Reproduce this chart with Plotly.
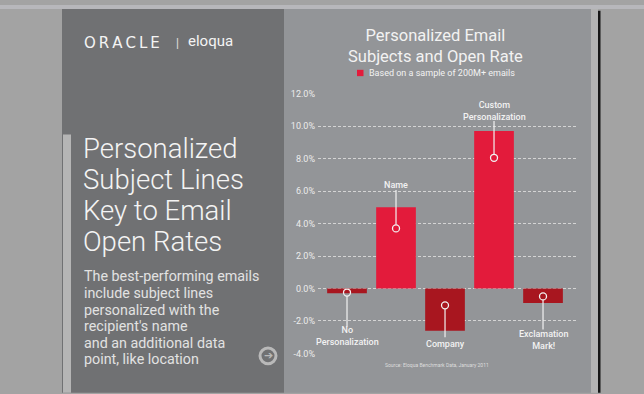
import plotly.graph_objects as go

# ---- data ----
categories = ["No Personalization", "Name", "Company", "Custom Personalization", "Exclamation Mark!"]
label_text = ["No<br>Personalization", "Name", "Company", "Custom<br>Personalization", "Exclamation<br>Mark!"]
open_rate_change = [-0.3, 5.0, -2.6, 9.7, -0.9]
tick_values = [-4, -2, 0, 2, 4, 6, 8, 10, 12]
tick_labels = ["-4.0%", "-2.0%", "0.0%", "2.0%", "4.0%", "6.0%", "8.0%", "10.0%", "12.0%"]

# ---- styling / layout helpers ----
W, H = 644, 394
def px(x): return x / W
def py(y): return 1 - y / H

POS = "#e31b3b"
NEG = "#a8161f"
TXT = "#f2f2f2"
FONT = "Roboto"

# callout styling: pin position as fraction of bar, leader end & text centre in axis units
pin_frac = [0.83, 0.74, 0.40, 0.83, 0.54]
leader_end = [-2.35, 6.06, -3.0, 10.32, -2.53]
text_center = [-2.92, 6.39, -3.43, 10.92, -3.18]

colors = [POS if v >= 0 else NEG for v in open_rate_change]
xi = list(range(len(categories)))

fig = go.Figure()
fig.add_trace(go.Bar(x=xi, y=open_rate_change, marker=dict(color=colors, line=dict(width=0)),
                     width=0.81, hoverinfo="skip", showlegend=False))
pins = [v * f for v, f in zip(open_rate_change, pin_frac)]
fig.add_trace(go.Scatter(x=xi, y=pins, mode="markers",
                         marker=dict(symbol="circle-open", size=7, color=TXT, line=dict(width=1.3, color=TXT)),
                         hoverinfo="skip", showlegend=False))

shapes = []
# backgrounds
shapes.append(dict(type="rect", xref="paper", yref="paper", x0=0, x1=1, y0=py(4), y1=1,
                   fillcolor="#b7b7bb", line=dict(width=0), layer="below"))
shapes.append(dict(type="rect", xref="paper", yref="paper", x0=px(62), x1=px(284), y0=-0.01, y1=py(4),
                   fillcolor="#707173", line=dict(width=0), layer="below"))
shapes.append(dict(type="rect", xref="paper", yref="paper", x0=px(284), x1=px(591), y0=-0.01, y1=py(4),
                   fillcolor="#939598", line=dict(width=0), layer="below"))
shapes.append(dict(type="rect", xref="paper", yref="paper", x0=px(591), x1=px(598), y0=-0.01, y1=py(4),
                   fillcolor="#b3b3b3", line=dict(width=0), layer="below"))
shapes.append(dict(type="rect", xref="paper", yref="paper", x0=px(598), x1=px(600.5), y0=-0.01, y1=py(6),
                   fillcolor="#161616", line=dict(width=0), layer="below"))
shapes.append(dict(type="rect", xref="paper", yref="paper", x0=px(63), x1=px(71), y0=-0.01, y1=py(133),
                   fillcolor="#b5b5b5", line=dict(width=0), layer="below"))
# legend swatch
shapes.append(dict(type="rect", xref="paper", yref="paper", x0=px(357), x1=px(363.5), y0=py(73), y1=py(66.5),
                   fillcolor=POS, line=dict(width=0)))
# arrow icon ring
shapes.append(dict(type="circle", xref="paper", yref="paper", x0=px(260), x1=px(276), y0=py(368), y1=py(352),
                   line=dict(color="#b9b9b9", width=3)))
# leader lines
for i, (p, e) in enumerate(zip(pins, leader_end)):
    start = p + (0.22 if e > p else -0.22)
    shapes.append(dict(type="line", xref="x", yref="y", x0=i, x1=i, y0=start, y1=e,
                       line=dict(color=TXT, width=1.2)))

ann = []
# logo
ann.append(dict(text="O\u2009R\u2009A\u2009C\u2009L\u2009E", x=px(82), y=py(38.5), xanchor="left", yanchor="middle",
                font=dict(family="DejaVu Sans", size=15, color="#f4f4f4")))
ann.append(dict(text="|", x=px(177), y=py(38.5), xanchor="center", yanchor="middle",
                font=dict(family=FONT, size=12, color="#e0e0e0")))
ann.append(dict(text="eloqua", x=px(186), y=py(37), xanchor="left", yanchor="middle",
                font=dict(family=FONT, size=15, color="#f4f4f4")))
# left title
for t, yy in zip(["Personalized", "Subject Lines", "Key to Email", "Open Rates"], [147, 179, 211, 243]):
    ann.append(dict(text=t, x=px(81), y=py(yy), xanchor="left", yanchor="middle",
                    font=dict(family=FONT, size=27.5, color="#f4f4f4", weight=300)))
sub = ["The best-performing emails", "include subject lines", "personalized with the",
       "recipient's name", "and an additional data", "point, like location"]
for t, yy in zip(sub, [278, 295, 312.5, 329.5, 346.5, 363.5]):
    ann.append(dict(text=t, x=px(82), y=py(yy), xanchor="left", yanchor="middle",
                    font=dict(family=FONT, size=14.3, color="#e2e2e2")))
ann.append(dict(text="\u2794", x=px(268.5), y=py(360), xanchor="center", yanchor="middle",
                font=dict(family="DejaVu Sans", size=11, color="#b9b9b9")))
# chart title & legend
ann.append(dict(text="Personalized Email<br>Subjects and Open Rate", x=px(435), y=py(42.5),
                xanchor="center", yanchor="middle", align="center",
                font=dict(family=FONT, size=16.5, color=TXT)))
ann.append(dict(text="Based on a sample of 200M+ emails", x=px(367), y=py(69.5), xanchor="left", yanchor="middle",
                font=dict(family=FONT, size=9, color=TXT)))
ann.append(dict(text="Source: Eloqua Benchmark Data, January 2011", x=px(437), y=py(369), xanchor="center",
                yanchor="middle", font=dict(family=FONT, size=5, color="#dddddd")))
# category callouts
for i, (t, yy) in enumerate(zip(label_text, text_center)):
    ann.append(dict(text=t, x=i, y=yy, xref="x", yref="y", xanchor="center", yanchor="middle",
                    showarrow=False, font=dict(family=FONT, size=9, color=TXT, weight=500)))

for a in ann:
    a.setdefault("xref", "paper")
    a.setdefault("yref", "paper")
    a["showarrow"] = False

fig.update_layout(
    width=W, height=H, margin=dict(l=0, r=0, t=0, b=0),
    paper_bgcolor="#a3a3a3", plot_bgcolor="rgba(0,0,0,0)",
    shapes=shapes, annotations=ann, bargap=0.19,
    xaxis=dict(domain=[px(318), px(576)], range=[-0.592, 4.673], showticklabels=False,
               showgrid=False, zeroline=False, showline=False, fixedrange=True),
    yaxis=dict(domain=[py(357.5), py(91)], range=[-4, 12], tickvals=tick_values, ticktext=tick_labels,
               showgrid=True, gridcolor="#d4d4d4", gridwidth=1, griddash="3px,2px",
               zeroline=False, showline=False, ticks="", ticklabelstandoff=2,
               tickfont=dict(family=FONT, size=9, color="#ececec")),
)

post = ("document.documentElement.style.margin='0';document.body.style.margin='0';"
        "document.body.style.overflow='hidden';document.body.style.background='#a3a3a3';"
        "var d=document.getElementById('{plot_id}');d.style.position='fixed';d.style.top='0px';d.style.left='0px';")
fig.write_html("out.html", config={"displayModeBar": False}, post_script=post)
